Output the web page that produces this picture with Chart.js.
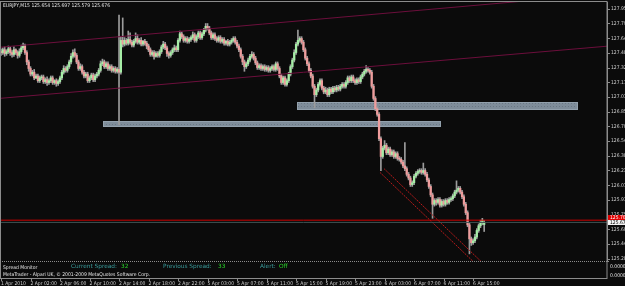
<!DOCTYPE html>
<html>
<head>
<meta charset="utf-8">
<title>EURJPY,M15</title>
<script src="https://cdn.jsdelivr.net/npm/chart.js@4.4.1/dist/chart.umd.min.js"></script>
<style>
  html, body { margin: 0; padding: 0; background: #0b0b0b; }
  #wrap { position: relative; width: 625px; height: 286px; overflow: hidden; }
  canvas { display: block; }
  .txt { position: absolute; white-space: nowrap; line-height: 1; font-family: 'Liberation Sans Narrow', 'DejaVu Sans Condensed', sans-serif; }
  .small { font-size: 5px; color: #e6e6e6; }
  .spread { font-family: 'DejaVu Sans', sans-serif; font-size: 5.8px; top: 264px; }
  .lbl { color: #3a9c9c; }
  .val { color: #2ad12a; }
</style>
</head>
<body>
<div id="wrap">
  <canvas id="chart" width="625" height="286"></canvas>
  <div class="txt small" id="hdr" style="left:3px; top:2.5px;"></div>
  <div class="txt small" style="left:3px; top:264.5px;">Spread Monitor</div>
  <div class="txt spread" id="spreadLine"></div>
  <div class="txt small" style="left:3px; top:271.5px;">MetaTrader - Alpari UK, © 2001-2009 MetaQuotes Software Corp.</div>
  <div class="txt small" style="left:610px; top:263.5px;">0.000000</div>
  <div class="txt small" style="left:610px; top:273px;">0.000000</div>
</div>
<script>
// EURJPY M15, 1 Apr 2010 22:00 .. 6 Apr 2010 ~17:30 (one row = 16 bars = 4 hours)
const symbol = 'EURJPY,M15';

const opens = [
  127.50,127.49,127.52,127.48,127.50,127.53,127.49,127.47,127.52,127.49,127.46,127.50,127.54,127.56,127.49,127.39,
  127.32,127.26,127.28,127.22,127.24,127.19,127.22,127.23,127.18,127.20,127.17,127.19,127.22,127.17,127.19,127.16,
  127.18,127.22,127.28,127.32,127.30,127.34,127.39,127.45,127.49,127.46,127.39,127.32,127.34,127.28,127.24,127.26,
  127.19,127.22,127.25,127.20,127.24,127.26,127.30,127.37,127.39,127.34,127.37,127.32,127.34,127.30,127.32,127.29,
  127.31,127.28,127.62,127.58,127.62,127.59,127.63,127.60,127.57,127.61,127.64,127.60,127.62,127.58,127.61,127.59,
  127.56,127.52,127.47,127.49,127.45,127.48,127.46,127.50,127.55,127.58,127.54,127.48,127.46,127.49,127.52,127.54,
  127.52,127.62,127.69,127.66,127.62,127.64,127.61,127.63,127.65,127.68,127.62,127.66,127.70,127.65,127.69,127.73,
  127.77,127.75,127.70,127.65,127.68,127.64,127.62,127.65,127.61,127.63,127.59,127.61,127.58,127.60,127.62,127.64,
  127.60,127.56,127.52,127.45,127.39,127.34,127.37,127.41,127.45,127.47,127.43,127.38,127.33,127.35,127.32,127.34,
  127.31,127.33,127.30,127.32,127.34,127.31,127.37,127.32,127.24,127.17,127.22,127.15,127.19,127.26,127.34,127.41,
  127.49,127.58,127.62,127.64,127.60,127.52,127.43,127.37,127.30,127.24,127.13,127.04,127.09,127.15,127.19,127.11,
  127.07,127.09,127.04,127.10,127.07,127.11,127.09,127.12,127.10,127.13,127.15,127.13,127.17,127.22,127.19,127.23,
  127.19,127.17,127.20,127.18,127.23,127.26,127.29,127.31,127.30,127.28,127.13,127.00,126.89,126.83,126.57,126.38,
  126.47,126.50,126.42,126.46,126.40,126.43,126.38,126.41,126.36,126.35,126.32,126.28,126.25,126.19,126.15,126.08,
  126.10,126.17,126.20,126.22,126.23,126.21,126.23,126.19,126.13,126.06,125.97,125.87,125.91,125.89,125.92,125.86,
  125.90,125.87,125.91,125.89,125.92,125.93,125.96,126.00,126.02,126.04,126.00,125.95,125.87,125.78,125.65,125.50,
  125.46,125.48,125.52,125.59,125.64,125.67,125.654
];
const highs = [
  127.53,127.54,127.55,127.52,127.56,127.55,127.51,127.55,127.53,127.51,127.53,127.57,127.59,127.58,127.51,127.41,
  127.34,127.30,127.31,127.26,127.26,127.24,127.25,127.25,127.22,127.23,127.21,127.24,127.24,127.20,127.21,127.20,
  127.24,127.30,127.35,127.34,127.36,127.41,127.48,127.52,127.53,127.48,127.41,127.37,127.36,127.30,127.28,127.28,
  127.24,127.27,127.27,127.26,127.28,127.32,127.40,127.42,127.41,127.39,127.39,127.36,127.36,127.34,127.34,127.33,
  127.89,127.66,127.86,127.65,127.64,127.72,127.70,127.62,127.63,127.70,127.68,127.64,127.65,127.62,127.63,127.61,
  127.58,127.54,127.51,127.51,127.50,127.50,127.52,127.57,127.61,127.60,127.56,127.50,127.51,127.54,127.57,127.56,
  127.64,127.72,127.71,127.68,127.66,127.66,127.65,127.67,127.71,127.70,127.68,127.72,127.72,127.71,127.75,127.80,
  127.80,127.77,127.72,127.70,127.70,127.66,127.67,127.67,127.65,127.65,127.62,127.63,127.62,127.64,127.66,127.66,
  127.62,127.58,127.54,127.47,127.41,127.39,127.43,127.47,127.50,127.49,127.45,127.40,127.37,127.37,127.36,127.36,
  127.35,127.35,127.34,127.36,127.36,127.39,127.39,127.34,127.26,127.24,127.24,127.21,127.28,127.36,127.43,127.52,
  127.60,127.73,127.66,127.66,127.62,127.54,127.45,127.39,127.32,127.26,127.15,127.11,127.17,127.21,127.21,127.13,
  127.12,127.11,127.12,127.12,127.13,127.13,127.14,127.14,127.15,127.17,127.17,127.19,127.24,127.24,127.25,127.25,
  127.21,127.22,127.22,127.25,127.28,127.31,127.35,127.33,127.32,127.30,127.15,127.02,126.91,126.85,126.59,126.49,
  126.55,126.52,126.48,126.48,126.45,126.45,126.43,126.43,126.38,126.37,126.34,126.53,126.27,126.21,126.17,126.12,
  126.19,126.22,126.24,126.25,126.25,126.31,126.25,126.21,126.15,126.08,125.99,125.93,125.93,125.94,125.94,125.92,
  125.92,125.93,125.93,125.94,125.95,125.98,126.02,126.12,126.06,126.06,126.02,125.97,125.89,125.80,125.67,125.52,
  125.50,125.55,125.61,125.66,125.70,125.72,125.697
];
const lows = [
  127.46,127.47,127.45,127.46,127.48,127.46,127.44,127.45,127.47,127.43,127.44,127.48,127.52,127.47,127.36,127.29,
  127.24,127.24,127.20,127.21,127.17,127.17,127.20,127.16,127.16,127.14,127.15,127.17,127.15,127.15,127.13,127.14,
  127.16,127.20,127.26,127.28,127.28,127.32,127.37,127.43,127.44,127.37,127.30,127.30,127.26,127.22,127.22,127.17,
  127.17,127.20,127.18,127.18,127.22,127.24,127.28,127.35,127.32,127.32,127.30,127.30,127.28,127.28,127.27,127.27,
  126.72,127.26,127.55,127.56,127.57,127.57,127.58,127.55,127.55,127.59,127.58,127.58,127.56,127.56,127.57,127.53,
  127.50,127.45,127.45,127.42,127.44,127.44,127.44,127.48,127.53,127.52,127.45,127.43,127.44,127.47,127.50,127.50,
  127.50,127.60,127.64,127.60,127.60,127.59,127.59,127.61,127.63,127.60,127.60,127.64,127.63,127.63,127.67,127.71,
  127.73,127.68,127.63,127.63,127.62,127.60,127.60,127.59,127.59,127.57,127.57,127.56,127.56,127.58,127.60,127.58,
  127.54,127.50,127.43,127.36,127.29,127.32,127.35,127.39,127.43,127.41,127.36,127.31,127.31,127.30,127.30,127.29,
  127.29,127.28,127.28,127.30,127.29,127.29,127.30,127.22,127.15,127.15,127.13,127.13,127.17,127.24,127.32,127.39,
  127.47,127.56,127.60,127.58,127.50,127.41,127.35,127.28,127.22,127.11,126.90,127.02,127.07,127.13,127.09,127.05,
  127.05,127.02,127.02,127.05,127.05,127.07,127.07,127.08,127.08,127.11,127.11,127.11,127.15,127.17,127.17,127.17,
  127.15,127.15,127.16,127.16,127.21,127.24,127.27,127.28,127.26,127.11,126.98,126.87,126.81,126.55,126.23,126.36,
  126.45,126.40,126.40,126.38,126.38,126.36,126.36,126.34,126.33,126.30,126.26,126.23,126.17,126.13,126.06,126.06,
  126.08,126.15,126.18,126.20,126.19,126.19,126.17,126.11,126.04,125.95,125.72,125.85,125.86,125.87,125.84,125.84,
  125.85,125.85,125.87,125.87,125.90,125.91,125.94,125.98,126.00,125.98,125.93,125.85,125.76,125.63,125.34,125.43,
  125.44,125.46,125.50,125.57,125.62,125.65,125.579
];
const closes = [
  127.49,127.52,127.48,127.50,127.53,127.49,127.47,127.52,127.49,127.46,127.50,127.54,127.56,127.49,127.39,127.32,
  127.26,127.28,127.22,127.24,127.19,127.22,127.23,127.18,127.20,127.17,127.19,127.22,127.17,127.19,127.16,127.18,
  127.22,127.28,127.32,127.30,127.34,127.39,127.45,127.49,127.46,127.39,127.32,127.34,127.28,127.24,127.26,127.19,
  127.22,127.25,127.20,127.24,127.26,127.30,127.37,127.39,127.34,127.37,127.32,127.34,127.30,127.32,127.29,127.31,
  127.28,127.62,127.58,127.62,127.59,127.63,127.60,127.57,127.61,127.64,127.60,127.62,127.58,127.61,127.59,127.56,
  127.52,127.47,127.49,127.45,127.48,127.46,127.50,127.55,127.58,127.54,127.48,127.46,127.49,127.52,127.54,127.52,
  127.62,127.69,127.66,127.62,127.64,127.61,127.63,127.65,127.68,127.62,127.66,127.70,127.65,127.69,127.73,127.77,
  127.75,127.70,127.65,127.68,127.64,127.62,127.65,127.61,127.63,127.59,127.61,127.58,127.60,127.62,127.64,127.60,
  127.56,127.52,127.45,127.39,127.34,127.37,127.41,127.45,127.47,127.43,127.38,127.33,127.35,127.32,127.34,127.31,
  127.33,127.30,127.32,127.34,127.31,127.37,127.32,127.24,127.17,127.22,127.15,127.19,127.26,127.34,127.41,127.49,
  127.58,127.62,127.64,127.60,127.52,127.43,127.37,127.30,127.24,127.13,127.04,127.09,127.15,127.19,127.11,127.07,
  127.09,127.04,127.10,127.07,127.11,127.09,127.12,127.10,127.13,127.15,127.13,127.17,127.22,127.19,127.23,127.19,
  127.17,127.20,127.18,127.23,127.26,127.29,127.31,127.30,127.28,127.13,127.00,126.89,126.83,126.57,126.38,126.47,
  126.50,126.42,126.46,126.40,126.43,126.38,126.41,126.36,126.35,126.32,126.28,126.25,126.19,126.15,126.08,126.10,
  126.17,126.20,126.22,126.23,126.21,126.23,126.19,126.13,126.06,125.97,125.87,125.91,125.89,125.92,125.86,125.90,
  125.87,125.91,125.89,125.92,125.93,125.96,126.00,126.02,126.04,126.00,125.95,125.87,125.78,125.65,125.50,125.46,
  125.48,125.52,125.59,125.64,125.67,125.70,125.676
];

const priceTicks = [127.955, 127.798, 127.640, 127.485, 127.325, 127.170, 127.015, 126.855, 126.700,
                    126.545, 126.385, 126.230, 126.070, 125.915, 125.755, 125.600, 125.445, 125.285];
const timeTickBars = [0, 16, 32, 48, 64, 80, 96, 112, 128, 144, 160, 176, 192, 208, 224, 240, 256];
const timeLabels = ['1 Apr 2010', '2 Apr 02:00', '2 Apr 06:00', '2 Apr 10:00', '2 Apr 14:00', '2 Apr 18:00',
                    '2 Apr 22:00', '5 Apr 03:00', '5 Apr 07:00', '5 Apr 11:00', '5 Apr 15:00', '5 Apr 19:00',
                    '5 Apr 23:00', '6 Apr 03:00', '6 Apr 07:00', '6 Apr 11:00', '6 Apr 15:00'];

// drawn objects: [bar, price] end points
const channelTop = [[-0.5, 127.547], [328.6, 128.118]];
const channelBottom = [[-0.5, 127.001], [328.6, 127.558]];
const dropLineA = [[207.7, 126.25], [260.8, 125.25]];
const dropLineB = [[205.5, 126.21], [256.5, 125.25]];
// rectangles: [fromBar, toBar, topPrice, bottomPrice]
const zones = [[160.5, 312.9, 126.965, 126.880], [55.3, 238.6, 126.755, 126.700]];
const alertLevel = 125.700;
const bidLevel = 125.676;

const currentSpread = 32;
const previousSpread = 33;
const spreadAlert = 'Off';

// ---------------------------------------------------------------
const X_MIN = -0.54, X_MAX = 328.6;
const last = closes.length - 1;

document.getElementById('hdr').textContent =
  symbol + '  ' + [opens[last], highs[last], lows[last], closes[last]].map(v => v.toFixed(3)).join(' ');
document.getElementById('spreadLine').innerHTML =
  '<span class="lbl" style="position:absolute;left:71px">Current Spread:</span>' +
  '<span class="val" style="position:absolute;left:121px">' + currentSpread + '</span>' +
  '<span class="lbl" style="position:absolute;left:163px">Previous Spread:</span>' +
  '<span class="val" style="position:absolute;left:218px">' + previousSpread + '</span>' +
  '<span class="lbl" style="position:absolute;left:260px">Alert:</span>' +
  '<span class="val" style="position:absolute;left:279px">' + spreadAlert + '</span>';

const bars = closes.map((c, i) => i);
const upColor = '#a6eea6';
const downColor = '#ef9c9c';

function segment(pts, color, dash) {
  return {
    type: 'line',
    data: pts.map(p => ({ x: p[0], y: p[1] })),
    borderColor: color,
    borderWidth: 1,
    borderDash: dash || [],
    pointRadius: 0,
    fill: false,
    order: 0
  };
}

// dotted gray fill for the zones
function zonePattern(ctx) {
  const pc = document.createElement('canvas');
  pc.width = 3; pc.height = 3;
  const p = pc.getContext('2d');
  p.fillStyle = '#7f8d9a';
  p.fillRect(0, 0, 3, 3);
  p.fillStyle = '#6a7884';
  p.fillRect(1, 1, 1, 1);
  return ctx.createPattern(pc, 'repeat');
}

const chartDecor = {
  id: 'chartDecor',
  beforeDraw(chart) {
    const ctx = chart.ctx;
    ctx.save();
    ctx.fillStyle = '#0b0b0b';
    ctx.fillRect(0, 0, chart.width, chart.height);
    ctx.restore();
  },
  beforeDatasetsDraw(chart) {
    const { ctx, chartArea: a, scales: { x, y } } = chart;
    ctx.save();
    ctx.beginPath();
    ctx.rect(a.left, a.top, a.right - a.left, a.bottom - a.top);
    ctx.clip();
    const pat = zonePattern(ctx);
    zones.forEach(z => {
      const x0 = Math.round(x.getPixelForValue(z[0]));
      const x1 = Math.round(x.getPixelForValue(z[1]));
      const y0 = Math.round(y.getPixelForValue(z[2]));
      const y1 = Math.round(y.getPixelForValue(z[3]));
      ctx.fillStyle = pat;
      ctx.fillRect(x0, y0, x1 - x0, y1 - y0);
      ctx.strokeStyle = '#93a1ad';
      ctx.strokeRect(x0 + 0.5, y0 + 0.5, x1 - x0 - 1, y1 - y0 - 1);
    });
    ctx.restore();
  },
  afterDraw(chart) {
    const { ctx, chartArea: a, scales: { x, y } } = chart;
    ctx.save();
    ctx.strokeStyle = '#8c8c8c';
    ctx.lineWidth = 1;
    // window frame
    ctx.strokeRect(0.5, a.top - 0.5, a.right - 0.5, 278 - a.top + 1);
    // sub window separator
    ctx.setLineDash([1, 1]);
    ctx.beginPath();
    ctx.moveTo(0, a.bottom + 0.5);
    ctx.lineTo(a.right + 3, a.bottom + 0.5);
    ctx.stroke();
    ctx.setLineDash([]);
    // time tick marks
    ctx.beginPath();
    x.ticks.forEach(t => {
      const px = Math.round(x.getPixelForValue(t.value)) + 0.5;
      ctx.moveTo(px, 278);
      ctx.lineTo(px, 281);
    });
    ctx.stroke();
    // price labels on the scale
    ctx.font = "5px 'Liberation Sans Narrow', 'DejaVu Sans Condensed', sans-serif";
    ctx.textBaseline = 'middle';
    const ya = Math.round(y.getPixelForValue(alertLevel));
    ctx.fillStyle = '#e00000';
    ctx.fillRect(a.right + 1, ya - 5, 17, 6);
    ctx.fillStyle = '#ffffff';
    ctx.fillText(alertLevel.toFixed(3), a.right + 3, ya - 2);
    const yb = Math.round(y.getPixelForValue(bidLevel));
    ctx.fillStyle = '#f2f2f2';
    ctx.fillRect(a.right + 1, yb - 2, 17, 5);
    ctx.fillStyle = '#000000';
    ctx.fillText(bidLevel.toFixed(3), a.right + 3, yb + 0.5);
    ctx.restore();
  }
};

Chart.defaults.font.family = "'Liberation Sans Narrow', 'DejaVu Sans Condensed', sans-serif";

new Chart(document.getElementById('chart'), {
  type: 'bar',
  data: {
    datasets: [
      segment([[X_MIN, alertLevel], [X_MAX, alertLevel]], '#d00000'),
      segment([[X_MIN, bidLevel], [X_MAX, bidLevel]], '#3f5252'),
      segment(channelTop, '#6c0f3c'),
      segment(channelBottom, '#6c0f3c'),
      segment(dropLineA, '#b81a1a', [2, 1]),
      segment(dropLineB, '#b81a1a', [2, 1]),
      {
        type: 'bar',
        data: bars.map(i => ({ x: i, y: [opens[i], closes[i]] })),
        backgroundColor: bars.map(i => closes[i] >= opens[i] ? upColor : downColor),
        barThickness: 1.6,
        minBarLength: 1,
        grouped: false,
        borderWidth: 0,
        order: 1
      },
      {
        type: 'bar',
        data: bars.map(i => ({ x: i, y: [lows[i], highs[i]] })),
        backgroundColor: '#9c9c9c',
        barThickness: 1,
        grouped: false,
        borderWidth: 0,
        order: 2
      }
    ]
  },
  options: {
    responsive: false,
    animation: false,
    devicePixelRatio: 1,
    layout: { padding: { left: 0, right: 0, top: 2, bottom: 0 } },
    plugins: { legend: { display: false }, tooltip: { enabled: false } },
    scales: {
      x: {
        type: 'linear',
        min: X_MIN,
        max: X_MAX,
        offset: false,
        afterBuildTicks: s => { s.ticks = timeTickBars.map(v => ({ value: v })); },
        afterFit: s => { s.height = 25; s.paddingLeft = 0; s.paddingRight = 0; },
        ticks: {
          color: '#d0d0d0',
          font: { size: 5 },
          padding: 12,
          align: 'start',
          autoSkip: false,
          maxRotation: 0,
          callback: (v, i) => timeLabels[i]
        },
        grid: { display: false },
        border: { display: false }
      },
      y: {
        position: 'right',
        min: 125.264,
        max: 128.030,
        afterBuildTicks: s => { s.ticks = priceTicks.map(v => ({ value: v })); },
        afterFit: s => { s.width = 18; s.paddingTop = 0; s.paddingBottom = 0; },
        ticks: {
          color: '#d0d0d0',
          font: { size: 5 },
          padding: 1,
          callback: v => v.toFixed(3)
        },
        grid: { drawOnChartArea: false, drawTicks: true, tickLength: 3, color: '#8c8c8c' },
        border: { color: '#8c8c8c' }
      }
    }
  },
  plugins: [chartDecor]
});
</script>
</body>
</html>
